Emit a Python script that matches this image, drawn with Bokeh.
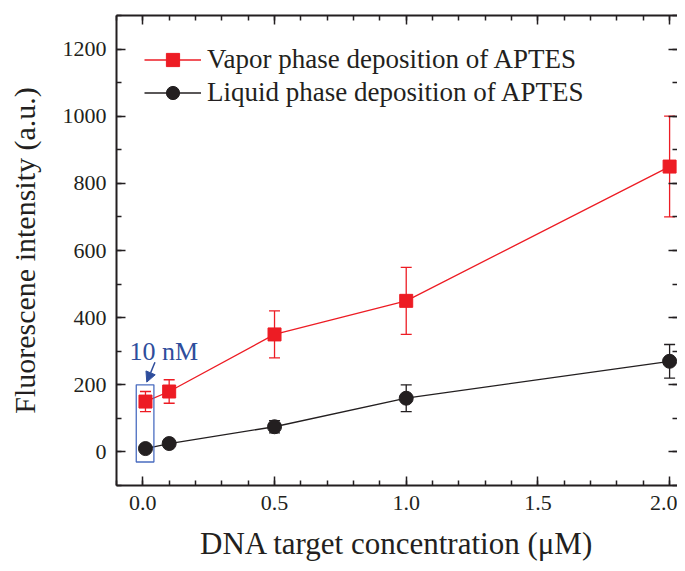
from bokeh.plotting import figure
from bokeh.models import (ColumnDataSource, Whisker, TeeHead, Legend, LegendItem,
                          LinearAxis, SingleIntervalTicker, Range1d, Arrow, NormalHead, Label,
                          PrintfTickFormatter, CustomJSTickFormatter)
from bokeh.embed import file_html
from bokeh.resources import INLINE

# ---- data ----
conc = [0.01, 0.1, 0.5, 1.0, 2.0]
vapor = [150, 180, 350, 450, 850]
vapor_err = [30, 35, 70, 100, 150]
liquid = [10, 25, 75, 160, 270]
liquid_err = [6, 6, 18, 40, 50]

x_ticks_interval = 0.5
y_ticks_interval = 200

# annotation (10 nM box + arrow + text)
box_x = [-0.025, 0.042]
box_y = [-30, 200]
arrow_from = (0.046, 267)
arrow_to = (0.015, 208)
note_pos = (0.08, 300)
note_text = "10 nM"

RED = "#ed1c24"
BLACK = "#231f20"
BLUE_BOX = "#4a6cc0"
BLUE_TXT = "#2e4d9c"
FONT = "Liberation Serif"

p = figure(width=677, height=563, x_range=Range1d(-0.1, 2.03), y_range=Range1d(-100, 1300),
           output_backend="svg", toolbar_location=None,
           min_border_left=116, min_border_top=15, min_border_right=0, min_border_bottom=10)
p.xgrid.visible = False
p.ygrid.visible = False
p.outline_line_color = None
p.background_fill_color = "white"
p.border_fill_color = "white"

xt = SingleIntervalTicker(interval=x_ticks_interval, num_minor_ticks=5)
yt = SingleIntervalTicker(interval=y_ticks_interval, num_minor_ticks=2)

def style(ax, labels=True):
    ax.axis_line_width = 2
    ax.axis_line_color = BLACK
    ax.major_tick_in = 9
    ax.major_tick_out = 0
    ax.minor_tick_in = 5
    ax.minor_tick_out = 0
    ax.major_tick_line_width = 1.5
    ax.minor_tick_line_width = 1.5
    ax.major_tick_line_color = BLACK
    ax.minor_tick_line_color = BLACK
    ax.major_label_text_font = FONT
    ax.major_label_text_font_style = "normal"
    ax.major_label_text_font_size = "22px"
    ax.major_label_text_color = BLACK
    if labels:
        ax.major_label_standoff = 10
    else:
        ax.formatter = CustomJSTickFormatter(code="return ''")
        ax.major_label_standoff = 0

xa = p.xaxis[0]
xa.ticker = xt
style(xa)
xa.formatter = PrintfTickFormatter(format="%.1f")
xa.axis_label = "DNA target concentration (μM)"
xa.axis_label_text_font = FONT
xa.axis_label_text_font_style = "normal"
xa.axis_label_text_font_size = "31px"
xa.axis_label_text_color = BLACK
xa.axis_label_standoff = 13

ya = p.yaxis[0]
ya.ticker = yt
style(ya)
ya.axis_label = "Fluorescene intensity (a.u.)"
ya.axis_label_text_font = FONT
ya.axis_label_text_font_style = "normal"
ya.axis_label_text_font_size = "30px"
ya.axis_label_text_color = BLACK
ya.axis_label_standoff = 19

top = LinearAxis(ticker=xt)
style(top, labels=False)
p.add_layout(top, "above")
right = LinearAxis(ticker=yt)
style(right, labels=False)
right.axis_line_color = None
p.add_layout(right, "right")

src_v = ColumnDataSource(dict(x=conc, y=vapor,
                              lo=[v - e for v, e in zip(vapor, vapor_err)],
                              hi=[v + e for v, e in zip(vapor, vapor_err)]))
src_l = ColumnDataSource(dict(x=conc, y=liquid,
                              lo=[v - e for v, e in zip(liquid, liquid_err)],
                              hi=[v + e for v, e in zip(liquid, liquid_err)]))

for src, col in ((src_v, RED), (src_l, BLACK)):
    w = Whisker(source=src, base="x", lower="lo", upper="hi", line_color=col, line_width=1.3,
                upper_head=TeeHead(size=11, line_color=col, line_width=1.3),
                lower_head=TeeHead(size=11, line_color=col, line_width=1.3))
    p.add_layout(w)

lv = p.line("x", "y", source=src_v, line_color=RED, line_width=1.3)
sv = p.scatter("x", "y", source=src_v, marker="square", size=13, fill_color=RED, line_color=RED)
ll = p.line("x", "y", source=src_l, line_color=BLACK, line_width=1.3)
sl = p.scatter("x", "y", source=src_l, marker="circle", size=14, fill_color=BLACK, line_color=BLACK)

# annotation
p.quad(left=[box_x[0]], right=[box_x[1]], bottom=[box_y[0]], top=[box_y[1]],
       fill_color=None, line_color=BLUE_BOX, line_width=1.3)
p.add_layout(Arrow(x_start=arrow_from[0], y_start=arrow_from[1], x_end=arrow_to[0], y_end=arrow_to[1],
                   line_color=BLUE_TXT, line_width=1.5,
                   end=NormalHead(size=10, fill_color=BLUE_TXT, line_color=BLUE_TXT)))
p.add_layout(Label(x=note_pos[0], y=note_pos[1], text=note_text, text_align="center",
                   text_baseline="alphabetic", text_font=FONT, text_font_size="26px",
                   text_color=BLUE_TXT))

legend = Legend(items=[LegendItem(label="Vapor phase deposition of APTES", renderers=[lv, sv]),
                       LegendItem(label="Liquid phase deposition of APTES", renderers=[ll, sl])],
                location="top_left", margin=28, padding=0, spacing=0,
                glyph_width=57, glyph_height=33, label_height=33, label_standoff=6,
                label_text_font=FONT, label_text_font_size="27px", label_text_color=BLACK,
                border_line_color=None, background_fill_alpha=0)
p.add_layout(legend)

open("out.html", "w").write(file_html(p, INLINE))
